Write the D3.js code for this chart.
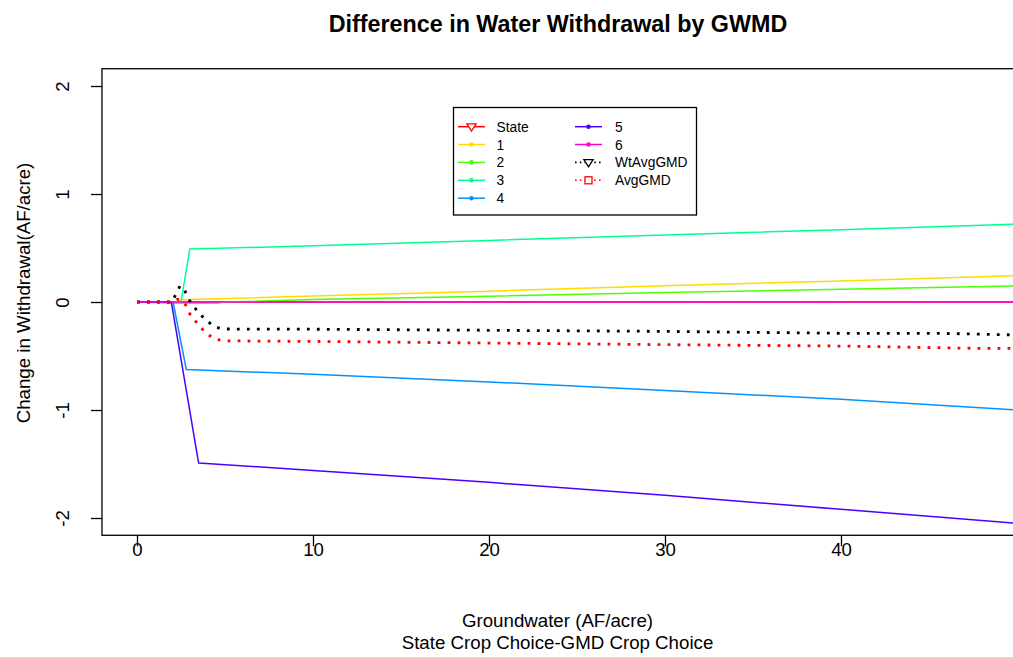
<!DOCTYPE html>
<html>
<head>
<meta charset="utf-8">
<script src="https://cdn.jsdelivr.net/npm/d3@7"></script>
<style>
  html, body { margin: 0; padding: 0; background: #fff; }
  svg { display: block; font-family: "Liberation Sans", Arial, sans-serif; }
</style>
</head>
<body>
<svg id="chart" width="1013" height="657"></svg>
<script>
// Difference in withdrawal (AF/acre) against groundwater (AF/acre), as [groundwater, change]
const stateSeries = [[0, 0], [50, 0]];
const gmd1 = [[0, 0], [2.2, 0], [2.5, 0.02], [10, 0.055], [20, 0.1], [30, 0.15], [40, 0.195], [50, 0.245]];
const gmd2 = [[0, 0], [2, -0.012], [4.6, -0.012], [5, 0], [10, 0.022], [20, 0.054], [30, 0.087], [40, 0.118], [50, 0.15]];
const gmd3 = [[0, 0], [2.5, 0], [3, 0.49], [10, 0.52], [20, 0.57], [30, 0.62], [40, 0.67], [50, 0.72]];
const gmd4 = [[0, 0], [2.05, 0], [2.8, -0.625], [10, -0.67], [20, -0.74], [30, -0.82], [40, -0.9], [50, -1.0]];
const gmd5 = [[0, 0], [1.95, 0], [3.5, -1.49], [10, -1.56], [20, -1.67], [30, -1.79], [40, -1.92], [50, -2.05]];
const gmd6 = [[0, 0], [50, 0]];
const wtAvgGMD = [[0, 0], [2, 0], [2.2, 0.07], [2.45, 0.15], [2.7, 0.11], [3, 0.01], [3.5, -0.1], [4, -0.18], [4.5, -0.235],
                  [5, -0.25], [10, -0.252], [20, -0.262], [30, -0.272], [40, -0.29], [45.5, -0.29], [50, -0.305]];
const avgGMD = [[0, 0], [2, 0], [2.3, 0.025], [2.7, -0.006], [3, -0.11], [3.5, -0.215], [4, -0.3], [4.5, -0.345],
                [5, -0.36], [10, -0.365], [20, -0.38], [30, -0.395], [40, -0.408], [48, -0.43], [50, -0.43]];

const seriesNames = ["State", "1", "2", "3", "4", "5", "6", "WtAvgGMD", "AvgGMD"];
const seriesColors = ["#FF0000", "#FFDB00", "#49FF00", "#00FF92", "#0092FF", "#4900FF", "#FF00DB", "#000000", "#FF0000"];
const seriesMarkers = ["triangleDown", "dot", "dot", "dot", "dot", "dot", "dot", "triangleDown", "square"];
const seriesDotted = [false, false, false, false, false, false, false, true, true];
const seriesData = [stateSeries, gmd1, gmd2, gmd3, gmd4, gmd5, gmd6, wtAvgGMD, avgGMD];

const xTicks = [0, 10, 20, 30, 40];
const yTicks = [-2, -1, 0, 1, 2];

const titleText = "Difference in Water Withdrawal by GWMD";
const xTitle = "Groundwater (AF/acre)";
const xSubtitle = "State Crop Choice-GMD Crop Choice";
const yTitle = "Change in Withdrawal(AF/acre)";

const svg = d3.select("#chart");

// Scales: R-style 4% padding around the data range
const x = d3.scaleLinear().domain([0, 40]).range([137, 841]);
const y = d3.scaleLinear().domain([-2, 2]).range([518, 86]);

const box = { left: x(-1.99), right: 1014.5, top: y(2.16), bottom: y(-2.16) };

svg.append("defs").append("clipPath").attr("id", "plotClip")
  .append("rect")
  .attr("x", box.left).attr("y", box.top)
  .attr("width", box.right - box.left).attr("height", box.bottom - box.top);

const plot = svg.append("g").attr("clip-path", "url(#plotClip)");

const line = d3.line().x(d => x(d[0])).y(d => y(d[1]));

seriesData.forEach((data, i) => {
  plot.append("path")
    .datum(data)
    .attr("d", line)
    .attr("fill", "none")
    .attr("stroke", seriesColors[i])
    .attr("stroke-width", seriesDotted[i] ? 2.8 : 1.5)
    .attr("stroke-dasharray", seriesDotted[i] ? "2.8 7.2" : null)
    .attr("stroke-linejoin", "round");
});

// Plot frame
svg.append("rect")
  .attr("x", box.left).attr("y", box.top)
  .attr("width", box.right - box.left).attr("height", box.bottom - box.top)
  .attr("fill", "none").attr("stroke", "#000").attr("stroke-width", 1.3);

// Plain hyphen-minus labels, as R prints them
const plainFormat = d => String(d);

// Bottom axis
const xAxis = d3.axisBottom(x).tickValues(xTicks).tickSize(11).tickPadding(6).tickFormat(plainFormat);
const gx = svg.append("g").attr("transform", `translate(0,${box.bottom})`).call(xAxis);
gx.select(".domain").remove();
gx.selectAll(".tick line").attr("stroke", "#000").attr("stroke-width", 1.3);
gx.selectAll(".tick text")
  .attr("font-size", "18.6px").attr("fill", "#000")
  .attr("font-family", "'Liberation Sans', Arial, sans-serif")
  .attr("dy", null).attr("y", 21);

// Left axis, labels parallel to the axis
const yAxis = d3.axisLeft(y).tickValues(yTicks).tickSize(11).tickFormat(plainFormat);
const gy = svg.append("g").attr("transform", `translate(${box.left},0)`).call(yAxis);
gy.select(".domain").remove();
gy.selectAll(".tick line").attr("stroke", "#000").attr("stroke-width", 1.3);
gy.selectAll(".tick text")
  .attr("font-size", "18.6px").attr("fill", "#000")
  .attr("font-family", "'Liberation Sans', Arial, sans-serif")
  .attr("x", null).attr("dy", null)
  .attr("text-anchor", "middle")
  .attr("transform", `translate(${68.5 - box.left},0) rotate(-90)`);

// Titles
svg.append("text").attr("x", 558).attr("y", 31.5)
  .attr("text-anchor", "middle").attr("font-weight", "bold").attr("font-size", "23.3px")
  .text(titleText);
svg.append("text").attr("x", 557.5).attr("y", 626.5)
  .attr("text-anchor", "middle").attr("font-size", "18.7px").text(xTitle);
svg.append("text").attr("x", 557.5).attr("y", 649.3)
  .attr("text-anchor", "middle").attr("font-size", "18.7px").text(xSubtitle);
svg.append("text")
  .attr("transform", "translate(30,293) rotate(-90)")
  .attr("text-anchor", "middle").attr("font-size", "18.7px").text(yTitle);

// Legend
const legend = svg.append("g");
legend.append("rect")
  .attr("x", 453.5).attr("y", 107.5).attr("width", 243).attr("height", 107.5)
  .attr("fill", "#fff").attr("stroke", "#000").attr("stroke-width", 1.3);

const rowY = [126.7, 144.5, 162.4, 180.3, 198.2];
const colLine = [[458, 485], [575, 602]];
const colText = [496.5, 615];

seriesNames.forEach((name, i) => {
  const col = i < 5 ? 0 : 1;
  const row = i < 5 ? i : i - 5;
  const cy = rowY[row];
  const [x0, x1] = colLine[col];
  const cx = (x0 + x1) / 2;
  const g = legend.append("g");
  g.append("line")
    .attr("x1", x0).attr("x2", x1).attr("y1", cy).attr("y2", cy)
    .attr("stroke", seriesColors[i])
    .attr("stroke-width", seriesDotted[i] ? 1.6 : 1.5)
    .attr("stroke-dasharray", seriesDotted[i] ? "1.6 3.2" : null);
  if (seriesMarkers[i] === "dot") {
    g.append("circle").attr("cx", cx).attr("cy", cy).attr("r", 2.3).attr("fill", seriesColors[i]);
  } else if (seriesMarkers[i] === "triangleDown") {
    const s = 4.6;
    g.append("path")
      .attr("d", `M${cx - s},${cy - s * 0.6} L${cx + s},${cy - s * 0.6} L${cx},${cy + s * 0.95} Z`)
      .attr("fill", "#fff").attr("stroke", seriesColors[i]).attr("stroke-width", 1.3);
  } else {
    const s = 3.5;
    g.append("rect").attr("x", cx - s).attr("y", cy - s).attr("width", 2 * s).attr("height", 2 * s)
      .attr("fill", "#fff").attr("stroke", seriesColors[i]).attr("stroke-width", 1.3);
  }
  g.append("text").attr("x", colText[col]).attr("y", cy + 5)
    .attr("font-size", "13.8px").attr("fill", "#000").text(name);
});
</script>
</body>
</html>
